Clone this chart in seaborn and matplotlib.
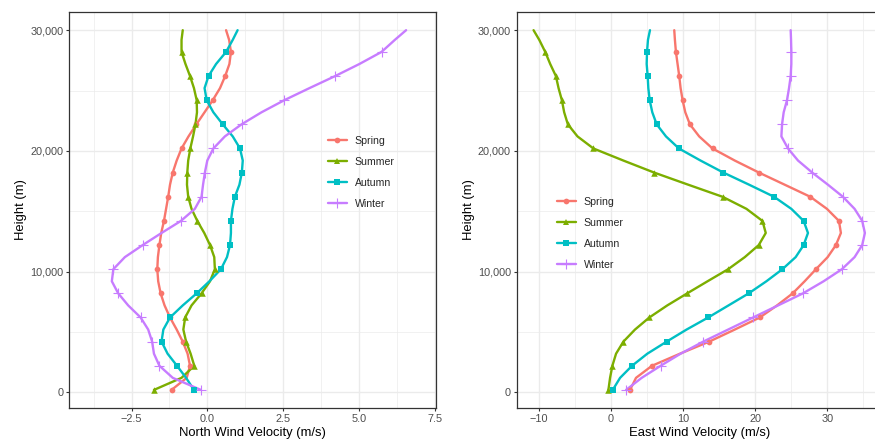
import matplotlib
matplotlib.use("Agg")
import matplotlib.pyplot as plt
from matplotlib.lines import Line2D
from matplotlib.ticker import FuncFormatter
import pandas as pd
import seaborn as sns

# Profile heights (m); markers sit on every second level
heights = [200, 1200, 2200, 3200, 4200, 5200, 6200, 7200, 8200, 9200,
           10200, 11200, 12200, 13200, 14200, 15200, 16200, 17200, 18200, 19200,
           20200, 21200, 22200, 23200, 24200, 25200, 26200, 27200, 28200, 29200,
           30000]
marker_heights = [200, 2200, 4200, 6200, 8200, 10200, 12200, 14200,
                  16200, 18200, 20200, 22200, 24200, 26200, 28200]

seasons = ["Spring", "Summer", "Autumn", "Winter"]
season_colors = ["#F8766D", "#7CAE00", "#00BFC4", "#C77CFF"]
season_markers = ["o", "^", "s", "+"]

# North wind velocity (m/s) by season
north_spring = [-1.18, -0.68, -0.57, -0.65, -0.81, -1.01, -1.23, -1.41, -1.54, -1.62,
                -1.65, -1.63, -1.58, -1.52, -1.43, -1.36, -1.29, -1.23, -1.14, -1.01,
                -0.85, -0.62, -0.36, -0.09, 0.18, 0.42, 0.59, 0.73, 0.78, 0.72,
                0.62]
north_summer = [-1.76, -0.85, -0.43, -0.55, -0.70, -0.79, -0.73, -0.52, -0.19, 0.09,
                0.25, 0.23, 0.09, -0.10, -0.33, -0.52, -0.63, -0.67, -0.66, -0.63,
                -0.56, -0.47, -0.39, -0.34, -0.35, -0.44, -0.57, -0.72, -0.85, -0.85,
                -0.81]
north_autumn = [-0.44, -0.70, -1.00, -1.31, -1.51, -1.45, -1.23, -0.81, -0.35, 0.07,
                0.45, 0.65, 0.75, 0.78, 0.78, 0.83, 0.91, 1.06, 1.14, 1.17,
                1.08, 0.84, 0.51, 0.20, -0.02, -0.09, 0.04, 0.29, 0.62, 0.84,
                1.00]
north_winter = [-0.21, -1.14, -1.58, -1.76, -1.82, -1.95, -2.20, -2.61, -2.94, -3.15,
                -3.10, -2.72, -2.13, -1.51, -0.87, -0.41, -0.19, -0.14, -0.08, 0.00,
                0.20, 0.58, 1.13, 1.79, 2.54, 3.37, 4.22, 5.02, 5.75, 6.19,
                6.56]

# East wind velocity (m/s) by season
east_spring = [2.63, 3.46, 5.68, 9.56, 13.62, 17.17, 20.64, 23.04, 25.21, 26.87,
               28.44, 30.06, 31.21, 31.90, 31.63, 29.96, 27.65, 24.10, 20.54, 17.17,
               14.08, 12.23, 10.94, 10.30, 9.93, 9.65, 9.46, 9.23, 9.00, 8.86,
               8.77]
east_summer = [-0.37, -0.14, 0.18, 0.69, 1.71, 3.32, 5.31, 7.80, 10.57, 13.39,
               16.25, 18.56, 20.50, 21.47, 21.01, 18.79, 15.47, 10.71, 6.00, 1.71,
               -2.45, -4.66, -6.00, -6.51, -6.83, -7.29, -7.66, -8.45, -9.14, -9.97,
               -10.76]
east_autumn = [0.23, 1.25, 2.91, 5.03, 7.71, 10.48, 13.48, 16.30, 19.11, 21.56,
               23.78, 25.62, 26.73, 27.33, 26.73, 25.02, 22.62, 19.16, 15.60, 12.42,
               9.42, 7.62, 6.33, 5.72, 5.36, 5.17, 5.08, 4.94, 4.99, 5.12,
               5.40]
east_winter = [2.08, 4.25, 6.88, 9.65, 12.79, 16.25, 19.71, 23.18, 26.64, 29.50,
               32.04, 33.80, 34.86, 35.23, 34.86, 33.80, 32.18, 30.10, 27.93, 25.95,
               24.56, 23.64, 23.73, 23.96, 24.42, 24.70, 24.93, 25.02, 25.02, 24.98,
               24.93]

north_ticks = [-2.5, 0.0, 2.5, 5.0, 7.5]
east_ticks = [-10, 0, 10, 20, 30]
height_ticks = [0, 10000, 20000, 30000]


def long_frame(series):
    rows = []
    for season, values in zip(seasons, series):
        for h, v in zip(heights, values):
            rows.append({"season": season, "height": h, "velocity": v})
    return pd.DataFrame(rows)


north_df = long_frame([north_spring, north_summer, north_autumn, north_winter])
east_df = long_frame([east_spring, east_summer, east_autumn, east_winter])

sns.set_theme(style="white")
plt.rcParams["font.family"] = ["Liberation Sans", "DejaVu Sans"]

W, H = 875, 441
fig = plt.figure(figsize=(W / 100, H / 100), dpi=100)
panel_w, panel_h = 366.7, 395.7
bottom = 1 - 407.9 / H
ax_n = fig.add_axes([69.4 / W, bottom, panel_w / W, panel_h / H])
ax_e = fig.add_axes([516.7 / W, bottom, panel_w / W, panel_h / H])

palette = dict(zip(seasons, season_colors))
marker_size = {"o": 17, "^": 22, "s": 18, "+": 42}
LW = 1.7


def draw_panel(ax, df, xlim, xticks, xminor, xfmt, xlabel, legend_anchor):
    sns.lineplot(data=df, x="velocity", y="height", hue="season",
                 hue_order=seasons, palette=palette, orient="y",
                 estimator=None, linewidth=LW, legend=False, ax=ax, zorder=2)
    marks = df[df["height"].isin(marker_heights)]
    for season, color, m in zip(seasons, season_colors, season_markers):
        sub = marks[marks["season"] == season]
        if m == "+":
            sns.scatterplot(data=sub, x="velocity", y="height", marker=m,
                            color=color, s=marker_size[m], linewidth=0.8,
                            legend=False, ax=ax, zorder=3)
        else:
            sns.scatterplot(data=sub, x="velocity", y="height", marker=m,
                            color=color, edgecolor=color, linewidth=0,
                            s=marker_size[m], legend=False, ax=ax, zorder=3)

    ax.set_xlim(*xlim)
    ax.set_ylim(-1290, 31490)
    ax.set_xticks(xticks)
    ax.set_xticks(xminor, minor=True)
    ax.set_yticks(height_ticks)
    ax.set_yticks([5000, 15000, 25000], minor=True)
    ax.xaxis.set_major_formatter(FuncFormatter(xfmt))
    ax.yaxis.set_major_formatter(FuncFormatter(lambda v, p: f"{v:,.0f}"))
    ax.set_axisbelow(True)
    ax.grid(which="major", color="#EBEBEB", linewidth=1.0)
    ax.grid(which="minor", color="#EBEBEB", linewidth=0.5)
    ax.tick_params(which="major", length=2.3, width=0.8, color="#333333",
                   labelsize=7.8, labelcolor="#4D4D4D", pad=1.9,
                   bottom=True, left=True)
    ax.tick_params(which="minor", length=0)
    for sp in ax.spines.values():
        sp.set_color("#333333")
        sp.set_linewidth(0.9)
        sp.set_visible(True)
    ax.set_xlabel(xlabel, fontsize=9.4, color="black", labelpad=2.5)
    ax.set_ylabel("Height (m)", fontsize=9.4, color="black", labelpad=2.2)

    handles = [
        Line2D([], [], color=c, lw=LW, marker=m,
               markersize=(marker_size[m] ** 0.5),
               markeredgewidth=(0.8 if m == "+" else 0))
        for c, m in zip(season_colors, season_markers)
    ]
    ax.legend(handles, seasons, loc="center left", bbox_to_anchor=legend_anchor,
              frameon=False, fontsize=7.6, handlelength=1.8, handletextpad=0.75,
              labelspacing=1.05, borderpad=0, borderaxespad=0)


draw_panel(ax_n, north_df, (-4.55, 7.55), north_ticks,
           [-3.75, -1.25, 1.25, 3.75, 6.25],
           lambda v, p: f"{v:.1f}".replace("-", "\u2212"),
           "North Wind Velocity (m/s)", (0.705, 0.595))
draw_panel(ax_e, east_df, (-13.1, 37.8), east_ticks,
           [-5, 5, 15, 25, 35],
           lambda v, p: f"{v:.0f}".replace("-", "\u2212"),
           "East Wind Velocity (m/s)", (0.109, 0.441))

fig.savefig("out.png", dpi=100)
